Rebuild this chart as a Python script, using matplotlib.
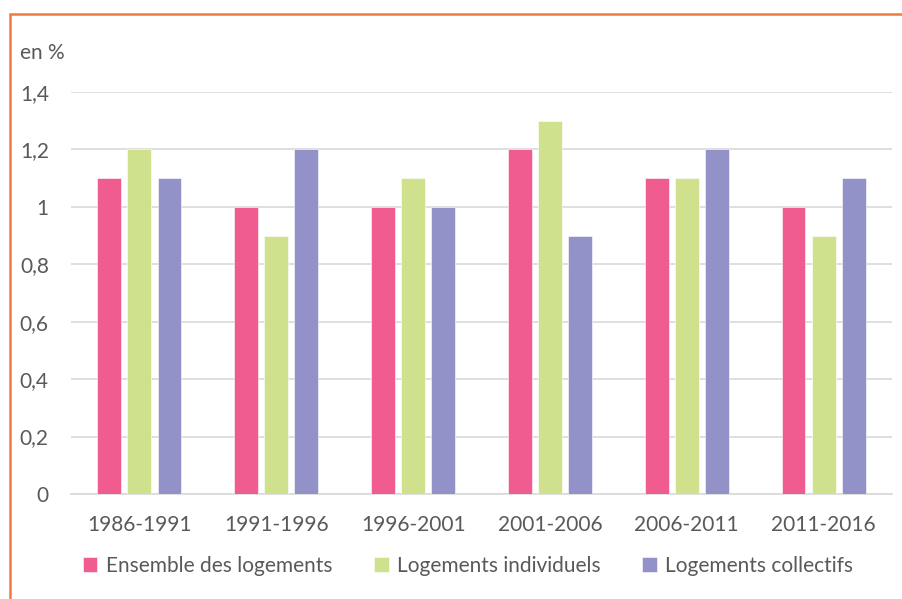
import numpy as np
import matplotlib.pyplot as plt
import matplotlib.patches as patches

periods = ['1986-1991', '1991-1996', '1996-2001', '2001-2006', '2006-2011', '2011-2016']
ensemble = [1.1, 1.0, 1.0, 1.2, 1.1, 1.0]
individuels = [1.2, 0.9, 1.1, 1.3, 1.1, 0.9]
collectifs = [1.1, 1.2, 1.0, 0.9, 1.2, 1.1]
series_names = ['Ensemble des logements', 'Logements individuels', 'Logements collectifs']
yticks = [0, 0.2, 0.4, 0.6, 0.8, 1.0, 1.2, 1.4]
ytick_labels = ['0', '0,2', '0,4', '0,6', '0,8', '1', '1,2', '1,4']

colors = ['#F05C90', '#D0E18E', '#9292C8']
grey = '#595959'

plt.rcParams['font.family'] = ['Lato', 'DejaVu Sans']

fig = plt.figure(figsize=(9.03, 5.99), dpi=100)
ax = fig.add_axes([71 / 903, 1 - 494 / 599, (892 - 71) / 903, (494 - 92) / 599])

x = np.arange(len(periods))
w = 0.175
step = 0.22
for i, (vals, c, lab) in enumerate(zip([ensemble, individuels, collectifs], colors, series_names)):
    ax.bar(x + (i - 1) * step, vals, width=w, color=c, label=lab, zorder=3,
           edgecolor='white', linewidth=0.4)

ax.set_xlim(-0.5, len(periods) - 0.5)
ax.set_ylim(0, 1.4)
ax.set_yticks(yticks)
ax.set_yticklabels(ytick_labels)
ax.set_xticks(x)
ax.set_xticklabels(periods)
ax.tick_params(axis='both', length=0, labelsize=15, labelcolor=grey)
ax.tick_params(axis='y', pad=16)
ax.tick_params(axis='x', pad=15)
ax.grid(axis='y', color='#D9D9D9', linewidth=1.2, zorder=0)
for s in ['top', 'right', 'left']:
    ax.spines[s].set_visible(False)
ax.spines['bottom'].set_color('#D9D9D9')
ax.spines['bottom'].set_linewidth(1.2)

fig.text(20 / 903, 1 - 53 / 599, 'en %', fontsize=15, color=grey, va='center', ha='left')

leg = fig.legend(loc='center', bbox_to_anchor=(468 / 903, 1 - 566 / 599), ncol=3,
                 frameon=False, fontsize=15, handlelength=0.7, handleheight=0.7,
                 handletextpad=0.4, columnspacing=2.0)
for t in leg.get_texts():
    t.set_color(grey)

fig.patches.append(patches.Rectangle((10.5 / 903, -0.1), 1.2, 1 - 13.5 / 599 + 0.1,
                                     transform=fig.transFigure, fill=False,
                                     edgecolor='#F07A40', linewidth=1.8))

fig.savefig('out.png', dpi=100)
